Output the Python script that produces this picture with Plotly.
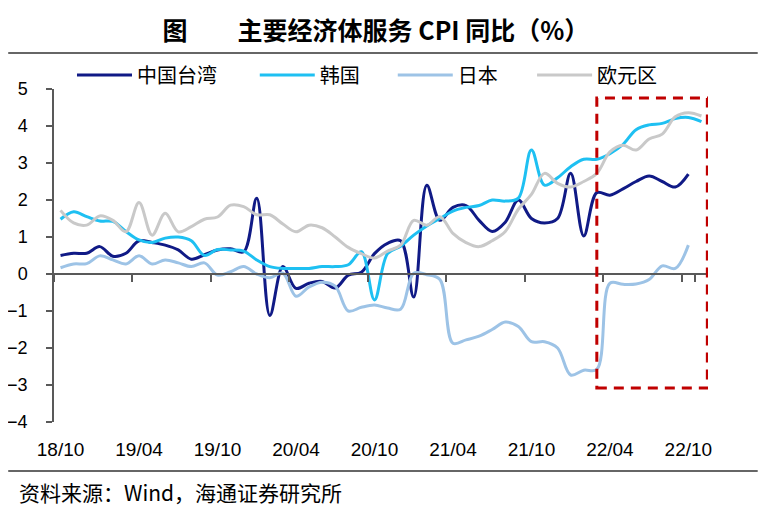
import pandas as pd
import plotly.graph_objects as go

# ---------------- data ----------------
months = [p.strftime("%y/%m") for p in pd.period_range("2018-10", "2022-11", freq="M")]
tick_labels = ["18/10", "19/04", "19/10", "20/04", "20/10", "21/04", "21/10", "22/04", "22/10"]

taiwan = [0.50, 0.56, 0.56, 0.74, 0.48, 0.56, 0.90, 0.85, 0.78, 0.65,
          0.40, 0.52, 0.65, 0.68, 0.60, 2.05, -1.12, 0.20, -0.39, -0.25,
          -0.20, -0.38, -0.03, 0.05, 0.55, 0.83, 0.90, -0.62, 2.40, 1.45,
          1.80, 1.85, 1.45, 1.15, 1.40, 2.00, 1.50, 1.38, 1.50, 2.72,
          1.03, 2.20, 2.13, 2.30, 2.50, 2.65, 2.50, 2.35, 2.70]

korea = [1.48, 1.68, 1.55, 1.43, 1.42, 1.15, 0.92, 0.85, 0.97, 1.00,
         0.90, 0.50, 0.66, 0.65, 0.62, 0.38, 0.20, 0.15, 0.15, 0.15,
         0.20, 0.20, 0.25, 0.60, -0.70, 0.55, 0.75, 1.05, 1.30, 1.50,
         1.70, 1.80, 1.85, 2.00, 1.97, 2.05, 3.35, 2.40, 2.60, 2.90,
         3.10, 3.10, 3.25, 3.50, 3.90, 4.03, 4.07, 4.20, 4.23, 4.12]

japan = [0.17, 0.27, 0.28, 0.49, 0.38, 0.27, 0.49, 0.27, 0.38, 0.30,
         0.20, 0.30, -0.03, 0.06, 0.20, 0.00, -0.10, 0.02, -0.60, -0.35,
         -0.22, -0.33, -1.00, -0.90, -0.84, -0.92, -0.95, 0.02, -0.02, -0.15,
         -1.87, -1.78, -1.68, -1.50, -1.30, -1.42, -1.83, -1.83, -2.00, -2.73,
         -2.60, -2.58, -0.25, -0.28, -0.27, -0.15, 0.22, 0.15, 0.78]

euro = [1.72, 1.38, 1.32, 1.57, 1.45, 1.14, 1.93, 1.05, 1.64, 1.14,
        1.28, 1.48, 1.54, 1.86, 1.82, 1.60, 1.60, 1.35, 1.14, 1.32,
        1.25, 1.00, 0.72, 0.55, 0.43, 0.62, 0.78, 1.45, 1.32, 1.55,
        1.10, 0.85, 0.74, 0.90, 1.15, 1.75, 2.15, 2.72, 2.45, 2.35,
        2.50, 2.72, 3.30, 3.48, 3.35, 3.65, 3.78, 4.25, 4.36, 4.27]

highlight_from, highlight_to = 41, 49.45   # 22/03 .. end of axis
highlight_low, highlight_high = -3.08, 4.76

# ---------------- figure ----------------
CJK = "Noto Sans CJK SC"
NUM = "Liberation Sans, Arial"
AX = "#595959"
W, H = 750, 501   # page body has an 8px margin

series = [
    ("中国台湾", taiwan, "#101a86", "x", "legend"),
    ("韩国", korea, "#1ec0f2", "x", "legend2"),
    ("日本", japan, "#9dc3e6", "x", "legend3"),
    ("欧元区", euro, "#c9c9c9", "x2", "legend4"),
]

fig = go.Figure()
for name, vals, color, xa, lg in series:
    fig.add_trace(go.Scatter(
        x=months[:len(vals)], y=vals, name=name, mode="lines",
        line=dict(color=color, width=3, shape="spline", smoothing=1.0),
        xaxis=xa, yaxis="y", legend=lg,
    ))

leg_common = dict(orientation="h", yanchor="middle", y=1.042, xanchor="left",
                  bgcolor="rgba(0,0,0,0)", borderwidth=0, itemwidth=55,
                  font=dict(family=CJK, size=20, color="#000000"))
lx = [0.0275, 0.307, 0.518, 0.731]

fig.update_layout(
    width=W, height=H,
    margin=dict(l=46, r=50, t=81, b=87, autoexpand=False),
    paper_bgcolor="white", plot_bgcolor="white",
    showlegend=True,
    legend=dict(leg_common, x=lx[0]),
    legend2=dict(leg_common, x=lx[1]),
    legend3=dict(leg_common, x=lx[2]),
    legend4=dict(leg_common, x=lx[3]),
    title=dict(text="图　　主要经济体服务 CPI 同比（%）", xref="container", x=368 / W,
               xanchor="center", yref="container", y=1 - 23 / H, yanchor="middle",
               font=dict(family=CJK, size=25, color="#000000", weight="bold")),
    xaxis=dict(type="category", categoryorder="array", categoryarray=months,
               range=[-0.5, len(months) - 0.5], showline=False, ticks="",
               tickmode="array", tickvals=tick_labels, ticktext=tick_labels,
               showgrid=False, zeroline=False, ticklabelstandoff=14, automargin=False,
               tickfont=dict(family=NUM, size=19, color="#000000")),
    xaxis2=dict(type="category", categoryorder="array", categoryarray=months,
                range=[-0.5, len(months) - 0.5], overlaying="x", anchor="free",
                position=4 / 9, showline=True, linecolor=AX, linewidth=1.5,
                ticks="outside", ticklen=7, tickwidth=1.5, tickcolor=AX,
                tickson="boundaries", tickmode="array", tickvals=tick_labels,
                showticklabels=False, showgrid=False, zeroline=False, automargin=False),
    yaxis=dict(range=[-4, 5], dtick=1, tick0=0, showline=True, linecolor=AX,
               linewidth=1.5, ticks="outside", ticklen=6, tickwidth=1.5,
               tickcolor=AX, showgrid=False, zeroline=False, ticklabelstandoff=15,
               automargin=False,
               tickfont=dict(family=NUM, size=18, color="#000000")),
)

# highlight box
fig.add_shape(type="rect", xref="x", yref="y",
              x0=highlight_from, x1=highlight_to, y0=highlight_low, y1=highlight_high,
              line=dict(color="#c00000", width=3, dash="10px,7px"),
              fillcolor="rgba(0,0,0,0)")

# header / footer rules
for ypos in (1.252, 1.108, -0.147):
    fig.add_shape(type="line", xref="paper", yref="paper",
                  x0=-0.07, x1=1.076, y0=ypos, y1=ypos,
                  line=dict(color="#333333", width=1.5))

fig.add_annotation(text="资料来源：Wind，海通证券研究所", xref="paper", yref="paper",
                   x=-0.057, y=-0.21, xanchor="left", yanchor="middle", showarrow=False,
                   font=dict(family=CJK, size=21, color="#000000"))

fig.write_html("out.html")
